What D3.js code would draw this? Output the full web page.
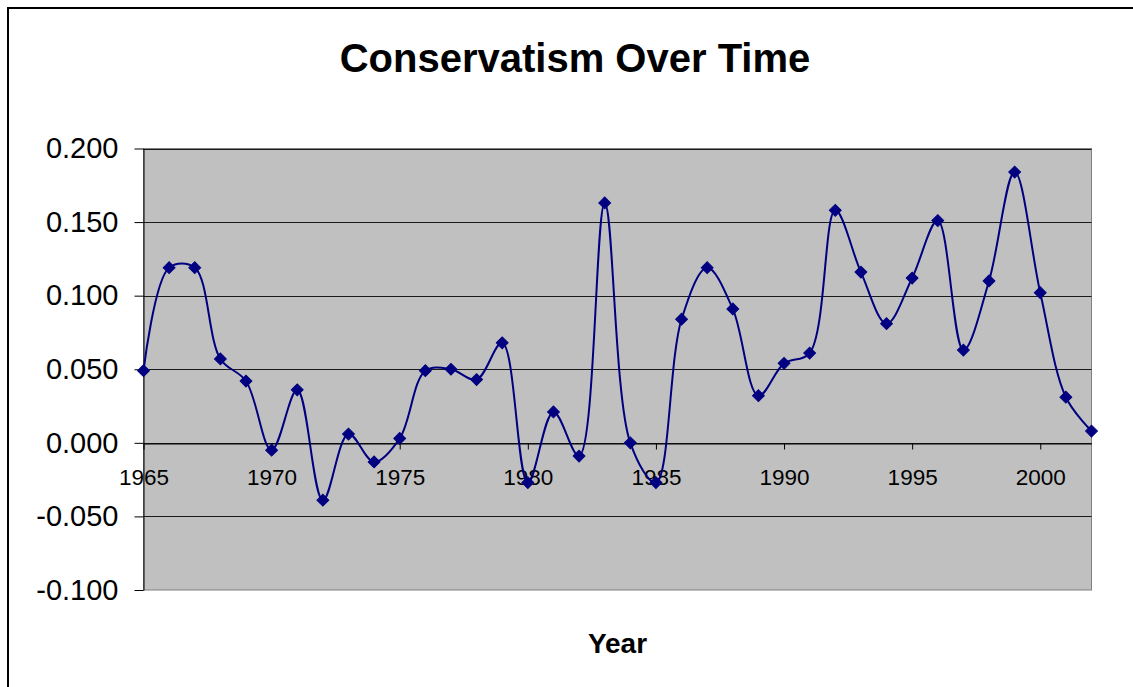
<!DOCTYPE html>
<html>
<head>
<meta charset="utf-8">
<script src="https://cdn.jsdelivr.net/npm/d3@7/dist/d3.min.js"></script>
<style>
  html, body { margin: 0; padding: 0; background: #fff; overflow: hidden; }
  svg { display: block; font-family: "Liberation Sans", Arial, sans-serif; }
</style>
</head>
<body>
<svg id="chart" width="1133" height="687"></svg>
<script>
// Yearly conservatism score, 1965-2002
const years = [1965, 1966, 1967, 1968, 1969, 1970, 1971, 1972, 1973, 1974,
               1975, 1976, 1977, 1978, 1979, 1980, 1981, 1982, 1983, 1984,
               1985, 1986, 1987, 1988, 1989, 1990, 1991, 1992, 1993, 1994,
               1995, 1996, 1997, 1998, 1999, 2000, 2001, 2002];
const scores = [0.049, 0.119, 0.119, 0.057, 0.042, -0.005, 0.036, -0.039, 0.006, -0.013,
                0.003, 0.049, 0.050, 0.043, 0.068, -0.027, 0.021, -0.009, 0.163, 0.000,
                -0.027, 0.084, 0.119, 0.091, 0.032, 0.054, 0.061, 0.158, 0.116, 0.081,
                0.112, 0.151, 0.063, 0.110, 0.184, 0.102, 0.031, 0.008];

// Axis ticks
const xTicks = [1965, 1970, 1975, 1980, 1985, 1990, 1995, 2000];
const yTicks = [-0.100, -0.050, 0.000, 0.050, 0.100, 0.150, 0.200];

const titleText = "Conservatism Over Time";
const xTitleText = "Year";

const data = years.map((y, i) => ({ year: y, value: scores[i] }));

const svg = d3.select("#chart");

// Chart area frame
svg.append("rect")
  .attr("x", 8).attr("y", 8)
  .attr("width", 1300).attr("height", 900)
  .attr("fill", "#fff")
  .attr("stroke", "#000")
  .attr("stroke-width", 2);

const plot = { left: 143.5, right: 1091.5, top: 148.5, bottom: 590 };

const x = d3.scaleLinear().domain([1965, 2002]).range([plot.left, plot.right]);
const y = d3.scaleLinear().domain([-0.1, 0.2]).range([plot.bottom, plot.top]);

// Plot area
svg.append("rect")
  .attr("x", plot.left).attr("y", plot.top)
  .attr("width", plot.right - plot.left)
  .attr("height", plot.bottom - plot.top)
  .attr("fill", "#c0c0c0")
  .attr("stroke", "#808080")
  .attr("stroke-width", 1);

// Horizontal gridlines
svg.append("g")
  .selectAll("line")
  .data(yTicks.filter(v => v !== -0.1))
  .join("line")
  .attr("x1", plot.left).attr("x2", plot.right)
  .attr("y1", d => Math.round(y(d)) + 0.5)
  .attr("y2", d => Math.round(y(d)) + 0.5)
  .attr("stroke", "#1a1a1a")
  .attr("stroke-width", 1);

const fmt = v => (v < 0 ? "-" : "") + Math.abs(v).toFixed(3);

// Y axis
const yAxis = svg.append("g")
  .attr("transform", `translate(${plot.left},0)`)
  .call(d3.axisLeft(y).tickValues(yTicks).tickFormat(fmt).tickSize(9).tickPadding(16).tickSizeOuter(0));
yAxis.select(".domain").attr("stroke", "#000");
yAxis.selectAll(".tick line").attr("stroke", "#000");
yAxis.selectAll(".tick text")
  .attr("fill", "#000")
  .attr("font-size", 29)
  .attr("font-family", "'Liberation Sans', Arial, sans-serif");

// X axis sitting on the zero line
const xAxis = svg.append("g")
  .attr("transform", `translate(0,${Math.round(y(0)) + 0.5})`)
  .call(d3.axisBottom(x).tickValues(xTicks).tickFormat(d3.format("d")).tickSize(6).tickSizeOuter(0));
xAxis.select(".domain").attr("stroke", "#000");
xAxis.selectAll(".tick line").attr("stroke", "#000");
xAxis.selectAll(".tick text")
  .attr("fill", "#000")
  .attr("font-size", 22.5)
  .attr("font-family", "'Liberation Sans', Arial, sans-serif")
  .attr("y", 26)
  .attr("dy", "0.71em");

// Smoothed series line
const line = d3.line()
  .x(d => x(d.year))
  .y(d => y(d.value))
  .curve(d3.curveCatmullRom.alpha(0.5));

svg.append("path")
  .datum(data)
  .attr("d", line)
  .attr("fill", "none")
  .attr("stroke", "#000080")
  .attr("stroke-width", 2);

// Diamond markers
const diamond = d3.symbol().type(d3.symbolSquare).size(70);
svg.append("g")
  .selectAll("path")
  .data(data)
  .join("path")
  .attr("d", diamond)
  .attr("transform", d => `translate(${x(d.year)},${y(d.value)}) rotate(45)`)
  .attr("fill", "#000080")
  .attr("stroke", "#000080")
  .attr("stroke-width", 1);

// Titles
svg.append("text")
  .attr("x", 575).attr("y", 72)
  .attr("text-anchor", "middle")
  .attr("font-size", 40)
  .attr("font-weight", "bold")
  .attr("fill", "#000")
  .text(titleText);

svg.append("text")
  .attr("x", (plot.left + plot.right) / 2).attr("y", 653)
  .attr("text-anchor", "middle")
  .attr("font-size", 28)
  .attr("font-weight", "bold")
  .attr("fill", "#000")
  .text(xTitleText);
</script>
</body>
</html>
